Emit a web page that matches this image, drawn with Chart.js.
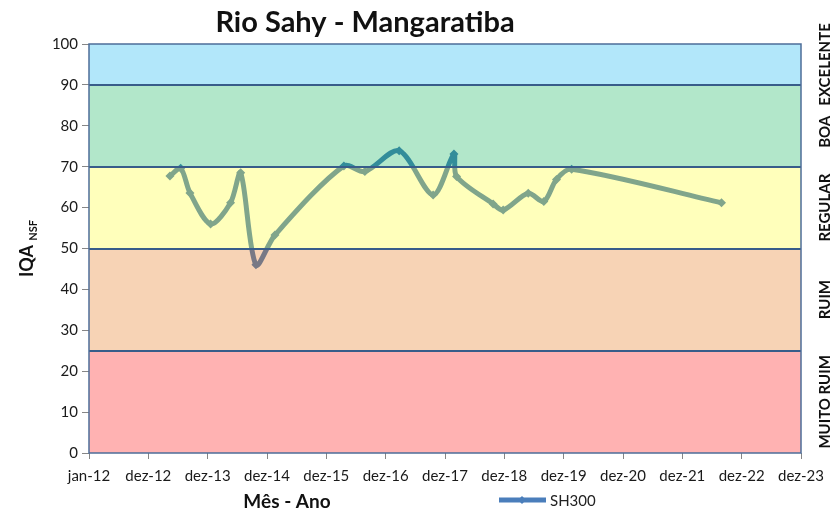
<!DOCTYPE html>
<html>
<head>
<meta charset="utf-8">
<script src="https://cdn.jsdelivr.net/npm/chart.js@4"></script>
<style>
  html, body { margin: 0; padding: 0; background: #fff; }
  #wrap { width: 836px; height: 512px; }
</style>
</head>
<body>
<div id="wrap"><canvas id="iqaChart" width="836" height="512"></canvas></div>
<script>
// sampling dates and IQA-NSF values for SH300
const sampleDates = [
  "2013-05-13", "2013-07-18", "2013-09-13", "2014-01-18", "2014-05-21",
  "2014-07-22", "2014-10-24", "2015-02-18", "2016-04-17", "2016-08-24",
  "2017-03-23", "2017-10-18", "2018-02-23", "2018-03-11", "2018-10-22",
  "2018-12-23", "2019-05-26", "2019-08-30", "2019-11-16", "2020-02-17",
  "2022-08-27",
];
const iqaValues = [
  67.7, 69.6, 63.6, 56.0, 61.2,
  68.5, 46.0, 53.3, 70.2, 68.8,
  73.9, 63.1, 73.1, 67.6, 60.9,
  59.4, 63.5, 61.5, 66.9, 69.4,
  61.2,
];
const xTickLabels = ["jan-12", "dez-12", "dez-13", "dez-14", "dez-15", "dez-16",
  "dez-17", "dez-18", "dez-19", "dez-20", "dez-21", "dez-22", "dez-23"];
const bandLimits = [0, 25, 50, 70, 90, 100];
const bandNames = ["MUITO RUIM", "RUIM", "REGULAR", "BOA", "EXCELENTE"];
const bandColors = [
  "rgba(255, 0, 0, 0.3)",
  "rgba(228, 108, 10, 0.3)",
  "rgba(255, 255, 30, 0.3)",
  "rgba(0, 176, 80, 0.3)",
  "rgba(0, 176, 240, 0.3)",
];

// x axis counts days from 1 Jan 2012, one tick every 365 days (like the excel sheet)
const DAY = 86400000;
const origin = Date.UTC(2012, 0, 1);
const dayOf = (s) => {
  const [yy, mm, dd] = s.split("-").map(Number);
  return (Date.UTC(yy, mm - 1, dd) - origin) / DAY;
};

const points = sampleDates.map((d, i) => ({ x: dayOf(d), y: iqaValues[i] }));
const FONT = "Lato, 'Noto Sans', sans-serif";

// bands are drawn over the line, semi transparent, so the line looks muted
const bandPlugin = {
  id: "iqaBands",
  afterDatasetsDraw(chart) {
    const { ctx, chartArea: a, scales } = chart;
    const y = scales.y;
    ctx.save();
    for (let i = 0; i < bandColors.length; i++) {
      const top = y.getPixelForValue(bandLimits[i + 1]);
      const bottom = y.getPixelForValue(bandLimits[i]);
      ctx.fillStyle = bandColors[i];
      ctx.fillRect(a.left, top, a.right - a.left, bottom - top);
    }
    ctx.strokeStyle = "#385D8A";
    ctx.lineWidth = 2;
    for (let i = 1; i < bandLimits.length - 1; i++) {
      const py = Math.round(y.getPixelForValue(bandLimits[i]));
      ctx.beginPath();
      ctx.moveTo(a.left, py);
      ctx.lineTo(a.right, py);
      ctx.stroke();
    }
    ctx.strokeStyle = "#4D6D99";
    ctx.lineWidth = 1.5;
    ctx.strokeRect(a.left, a.top, a.right - a.left, a.bottom - a.top);

    // band names on the right
    ctx.fillStyle = "#111";
    ctx.font = "bold 15px " + FONT;
    ctx.textAlign = "center";
    ctx.textBaseline = "middle";
    for (let i = 0; i < bandNames.length; i++) {
      const mid = (y.getPixelForValue(bandLimits[i]) + y.getPixelForValue(bandLimits[i + 1])) / 2;
      ctx.save();
      ctx.translate(825, mid + (i === 3 ? 6 : 0));
      ctx.rotate(-Math.PI / 2);
      ctx.fillText(bandNames[i], 0, 0);
      ctx.restore();
    }
    ctx.restore();
  },
  afterDraw(chart) {
    const { ctx, chartArea: a } = chart;
    ctx.save();
    ctx.fillStyle = "#111";
    // title
    ctx.font = "bold 29px " + FONT;
    ctx.textAlign = "center";
    ctx.textBaseline = "alphabetic";
    ctx.fillText("Rio Sahy - Mangaratiba", 365, 32);

    // y title with subscript
    ctx.save();
    ctx.translate(27, (a.top + a.bottom) / 2);
    ctx.rotate(-Math.PI / 2);
    ctx.font = "bold 18px " + FONT;
    const w1 = ctx.measureText("IQA ").width;
    ctx.font = "bold 11px " + FONT;
    const w2 = ctx.measureText("NSF").width;
    ctx.textAlign = "left";
    ctx.font = "bold 18px " + FONT;
    ctx.fillText("IQA ", -(w1 + w2) / 2, 6);
    ctx.font = "bold 11px " + FONT;
    ctx.fillText("NSF", -(w1 + w2) / 2 + w1, 10);
    ctx.restore();

    // x title
    ctx.font = "bold 19px " + FONT;
    ctx.textAlign = "center";
    ctx.textBaseline = "middle";
    ctx.fillText("Mês - Ano", 287, 502);

    // legend
    const ds = chart.data.datasets[0];
    ctx.strokeStyle = ds.borderColor;
    ctx.lineWidth = 5;
    ctx.beginPath();
    ctx.moveTo(499, 500);
    ctx.lineTo(546, 500);
    ctx.stroke();
    ctx.fillStyle = ds.borderColor;
    ctx.beginPath();
    ctx.moveTo(522, 496);
    ctx.lineTo(526, 500);
    ctx.lineTo(522, 504);
    ctx.lineTo(518, 500);
    ctx.closePath();
    ctx.fill();
    ctx.fillStyle = "#222";
    ctx.font = "15px " + FONT;
    ctx.textAlign = "left";
    ctx.fillText(ds.label, 550, 501);
    ctx.restore();
  },
};

const ctx = document.getElementById("iqaChart").getContext("2d");

const config = {
  type: "line",
  data: {
    datasets: [
      {
        label: "SH300",
        data: points,
        borderColor: "#4A7EBB",
        backgroundColor: "#4A7EBB",
        borderWidth: 5,
        tension: 0.3,
        pointStyle: "rectRot",
        pointRadius: 4.5,
        pointBorderWidth: 0,
        pointBackgroundColor: "#4A7EBB",
        fill: false,
      },
    ],
  },
  options: {
    responsive: false,
    animation: false,
    layout: { padding: { top: 44, right: 35, left: 0, bottom: 0 } },
    plugins: {
      legend: { display: false },
      title: { display: false },
      tooltip: { enabled: false },
    },
    scales: {
      x: {
        type: "linear",
        min: 0,
        max: 4380,
        afterFit: (s) => { s.height = 59; },
        grid: { drawOnChartArea: false, tickLength: 6, color: "#868686" },
        border: { display: false },
        ticks: {
          stepSize: 365,
          autoSkip: false,
          maxRotation: 0,
          padding: 8,
          color: "#1a1a1a",
          font: { family: FONT, size: 15 },
          callback: (v) => xTickLabels[Math.round(v / 365)],
        },
      },
      y: {
        min: 0,
        max: 100,
        afterFit: (s) => { s.width = 89; },
        grid: { drawOnChartArea: false, tickLength: 7, color: "#868686" },
        border: { display: false },
        ticks: {
          stepSize: 10,
          padding: 4,
          color: "#1a1a1a",
          font: { family: FONT, size: 15 },
        },
      },
    },
  },
  plugins: [bandPlugin],
};

const iqaChart = new Chart(ctx, config);
</script>
</body>
</html>
